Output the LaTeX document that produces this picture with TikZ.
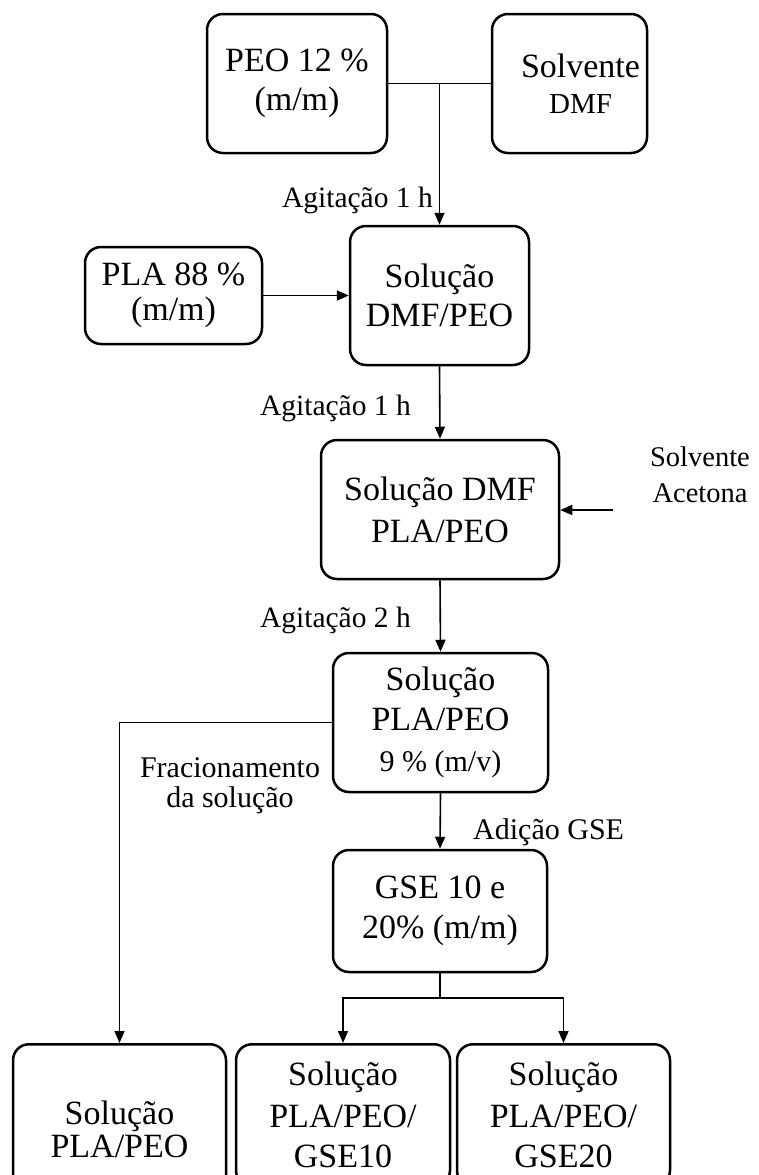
\documentclass[tikz,border=0pt]{standalone}
\usepackage{fontspec}
\setmainfont{Liberation Serif}
\usetikzlibrary{arrows.meta}

\tikzset{
  box/.style={draw, line width=2.5pt, rounded corners=16pt, align=center,
    inner sep=0pt, font=\fontsize{34}{39}\selectfont},
  boxtext/.style={align=center, inner sep=0pt, font=\fontsize{34}{39}\selectfont},
  link/.style={line width=1.6pt},
  arr/.style={link, -{Triangle[length=12pt,width=10pt]}},
  lab/.style={font=\fontsize{29.5}{31}\selectfont, inner sep=0pt, align=center},
}

\begin{document}
\begin{tikzpicture}[x=1pt, y=-1pt]
  \useasboundingbox (0,0) rectangle (758,1175);
  \clip (0,0) rectangle (758,1175);

  % starting materials
  \node[box, minimum width=180, minimum height=139] (peo) at (297,83.5)
    {PEO 12 \%\\(m/m)};
  \node[box, minimum width=155, minimum height=139] (dmf) at (569.5,83.5) {};
  \node[boxtext, xshift=11pt] (dmftext) at (dmf.center)
    {Solvente\\[-3pt]{\fontsize{29}{39}\selectfont DMF}};
  \node[box, minimum width=177, minimum height=97] (pla) at (173.5,295.5)
    {PLA 88 \%\\[-4pt](m/m)};

  % intermediate solutions
  \node[box, minimum width=179, minimum height=139] (sol1) at (439.5,295.5)
    {Solução\\DMF/PEO};
  \node[box, minimum width=238, minimum height=139] (sol2) at (440,509.5)
    {Solução DMF\\[3pt]PLA/PEO};
  \node[box, minimum width=215, minimum height=139] (sol3) at (440.5,722.5)
    {Solução\\[1pt]PLA/PEO\\[2pt]{\fontsize{30}{39}\selectfont 9 \% (m/v)}};
  \node[box, minimum width=214, minimum height=122] (gse) at (440,911)
    {GSE 10 e\\[1pt]20\% (m/m)};

  % final solutions
  \node[box, minimum width=213, minimum height=170, anchor=north] (out0) at (119.5,1043)
    {Solução\\[-6pt]PLA/PEO};
  \node[box, minimum width=214, minimum height=142, anchor=north] (out1) at (343,1043)
    {Solução\\[3pt]PLA/PEO/\\[1pt]GSE10};
  \node[box, minimum width=213, minimum height=142, anchor=north] (out2) at (563.5,1043)
    {Solução\\[3pt]PLA/PEO/\\[1pt]GSE20};

  % labels
  \node[lab, anchor=base east] (ag1) at (433,207) {Agitação 1 h};
  \node[lab, anchor=base east] (ag2) at (411,415) {Agitação 1 h};
  \node[lab, anchor=base east] (ag3) at (411,627) {Agitação 2 h};
  \node[lab, anchor=base, font=\fontsize{28.5}{36}\selectfont] (ace) at (700,502)
    {Solvente\\Acetona};
  \node[lab, anchor=base, font=\fontsize{30}{30}\selectfont] (frac) at (230,807)
    {Fracionamento\\da solução};
  \node[lab, anchor=base west, font=\fontsize{30}{31}\selectfont] (add) at (473,839) {Adição GSE};

  % connectors
  \coordinate (j1) at (sol1.north |- peo.east);
  \draw[link] (peo.east) -- (dmf.west);
  \draw[arr] (j1) -- (sol1.north);
  \draw[arr] (pla.east) -- (sol1.west);
  \draw[arr] (sol1.south) -- (sol2.north);
  \coordinate (aceT) at (613,510);
  \draw[arr] (aceT) -- (aceT -| sol2.east);
  \draw[arr] (sol2.south) -- (sol3.north);
  \draw[arr] (sol3.west) -| (out0.north);
  \draw[arr] (sol3.south) -- (gse.north);
  \coordinate (j2) at (gse.south |- 0,998);
  \draw[link] (gse.south) -- (j2);
  \draw[arr] (j2) -| (out1.north);
  \draw[arr] (j2) -| (out2.north);
\end{tikzpicture}
\end{document}
